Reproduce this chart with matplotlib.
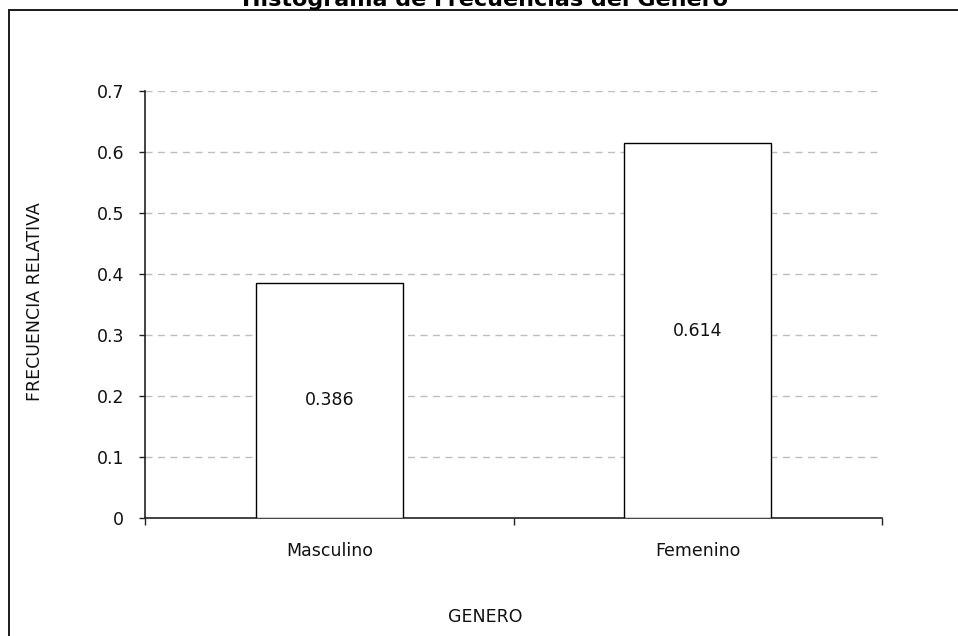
import matplotlib
matplotlib.use('Agg')
import matplotlib.pyplot as plt
from matplotlib.patches import Rectangle

categories = ['Masculino', 'Femenino']
freq_rel = [0.386, 0.614]
y_ticks = [0, 0.1, 0.2, 0.3, 0.4, 0.5, 0.6, 0.7]
y_tick_labels = ['0', '0.1', '0.2', '0.3', '0.4', '0.5', '0.6', '0.7']

W, H = 958, 636
plt.rcParams['font.family'] = ['DejaVu Sans']

fig = plt.figure(figsize=(W / 100, H / 100), dpi=100)
fig.patch.set_facecolor('white')

# outer chart border (cut off on the right and bottom like the original)
fig.patches.append(Rectangle((8.5 / W, -0.05), 1.2, 1 - 9.5 / H + 0.05,
                             transform=fig.transFigure, fill=False,
                             edgecolor='#1a1a1a', linewidth=1.4, zorder=0))

ax = fig.add_axes([145 / W, (H - 518) / H, (882 - 145) / W, (518 - 91) / H])

x = range(len(categories))
ax.bar(x, freq_rel, width=0.4, color='white', edgecolor='black',
       linewidth=1.0, zorder=3)
for i, v in enumerate(freq_rel):
    ax.text(i, v / 2, '%.3f' % v, ha='center', va='center', fontsize=12.5,
            color='#111111', zorder=4)

ax.set_xlim(-0.5, len(categories) - 0.5)
ax.set_ylim(0, 0.7)

ax.set_yticks(y_ticks)
ax.set_yticklabels(y_tick_labels, fontsize=12.5, color='#111111')
ax.tick_params(axis='y', length=4, width=1, pad=11, color='#222222')

ax.set_xticks([i - 0.5 for i in range(len(categories) + 1)])
ax.set_xticklabels([])
ax.tick_params(axis='x', which='major', length=5, width=1, color='#222222')
ax.set_xticks(list(x), minor=True)
ax.set_xticklabels(categories, minor=True, fontsize=12.5, color='#111111')
ax.tick_params(axis='x', which='minor', length=0, pad=17)

for yv in y_ticks[1:]:
    ax.axhline(yv, color='#bdbdbd', linestyle=(0, (5, 4)), linewidth=1.0,
               zorder=1)

for side in ['top', 'right']:
    ax.spines[side].set_visible(False)
for side in ['left', 'bottom']:
    ax.spines[side].set_color('#222222')
    ax.spines[side].set_linewidth(1.2)

fig.text(485 / W, 1 - 6 / H, 'Histograma de Frecuencias del Genero',
         ha='center', va='baseline', fontsize=16, fontweight='bold')
fig.text(485 / W, 1 - 617 / H, 'GENERO', ha='center', va='center',
         fontsize=12.5, color='#111111')
fig.text(35 / W, 1 - 302 / H, 'FRECUENCIA RELATIVA', ha='center',
         va='center', rotation=90, fontsize=12.5, color='#111111')

fig.savefig('out.png', dpi=100)
